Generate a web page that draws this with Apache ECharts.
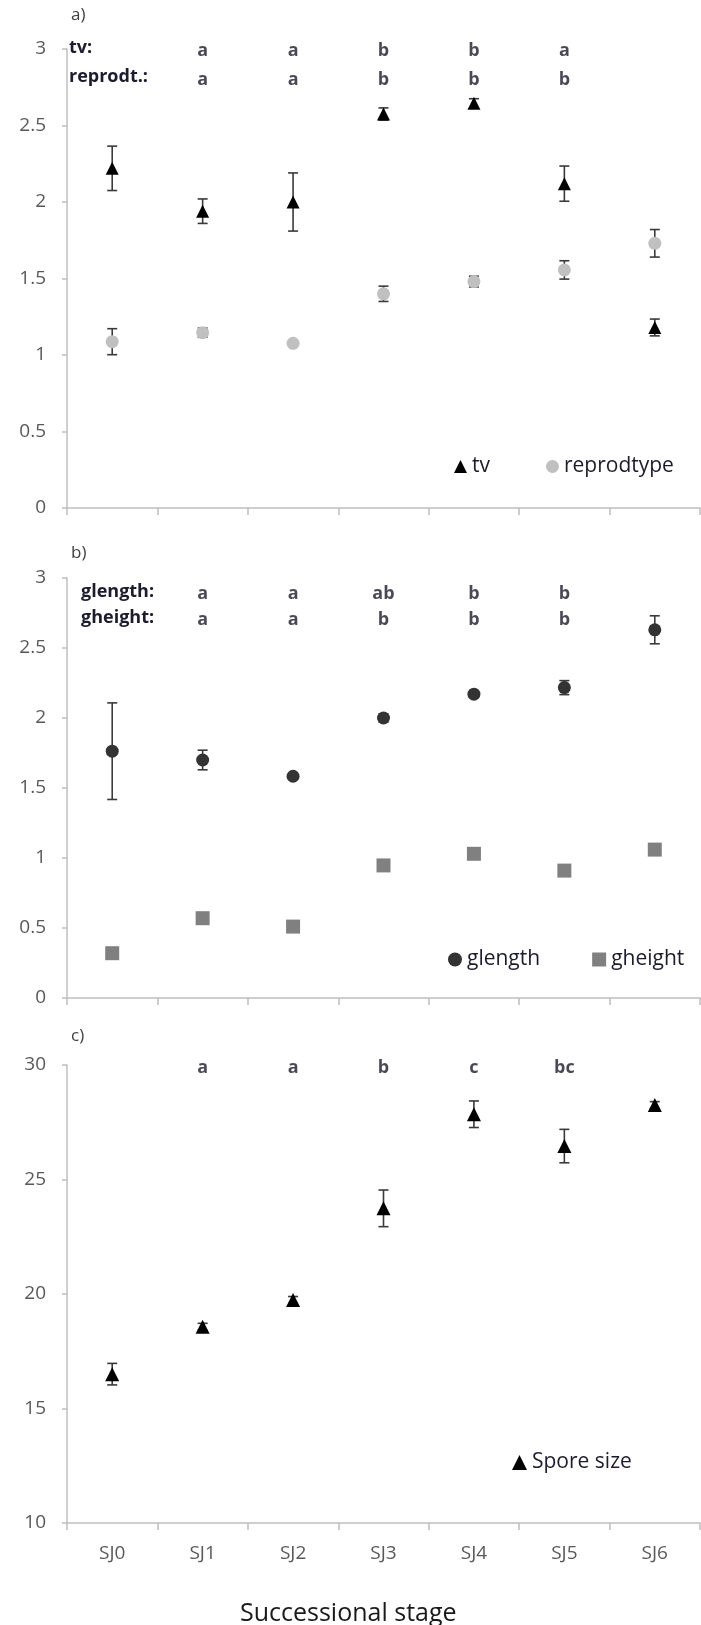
<!DOCTYPE html>
<html>
<head>
<meta charset="utf-8">
<script src="https://cdn.jsdelivr.net/npm/echarts@6/dist/echarts.min.js"></script>
<style>html,body{margin:0;padding:0;background:#fff}#c{width:701px;height:1625px}</style>
</head>
<body>
<div id="c"></div>
<script>
const stages = ['SJ0','SJ1','SJ2','SJ3','SJ4','SJ5','SJ6'];
const tvMean = [2.22,1.94,2.00,2.575,2.645,2.12,1.18];
const tvErr = [0.145,0.08,0.19,0.04,0.03,0.115,0.055];
const reproMean = [1.087,1.146,1.076,1.40,1.48,1.556,1.73];
const reproErr = [0.085,0.03,0.01,0.05,0.035,0.06,0.09];
const glengthMean = [1.763,1.70,1.584,2.00,2.17,2.217,2.63];
const glengthErr = [0.345,0.07,0.01,0.03,0.02,0.05,0.10];
const gheightMean = [0.32,0.57,0.51,0.947,1.03,0.91,1.06];
const gheightErr = [0.02,0.02,0.02,0.02,0.02,0.02,0.02];
const sporeMean = [16.5,18.57,19.74,23.74,27.85,26.46,28.25];
const sporeErr = [0.47,0.15,0.15,0.8,0.58,0.73,0.15];
const tvLetters = ['','a','a','b','b','a',''];
const reproLetters = ['','a','a','b','b','b',''];
const glengthLetters = ['','a','a','ab','b','b',''];
const gheightLetters = ['','a','a','b','b','b',''];
const sporeLetters = ['','a','a','b','c','bc',''];
const yTicksA = [0,3,0.5];
const yTicksC = [10,30,5];

const FONT = 'Open Sans';
const TXT = '#1c1c2c';
const chart = echarts.init(document.getElementById('c'), null, {renderer:'canvas'});

function errData(mean, err){ return mean.map((m,i)=>[i, m-err[i], m+err[i]]); }
function letterData(letters, y){ return letters.map((l,i)=>[i,y,l]).filter(d=>d[2]!==''); }

function errSeries(name, idx, mean, err){
  return {
    name: name, type:'custom', xAxisIndex: idx, yAxisIndex: idx, z: 1, silent:true,
    data: errData(mean, err),
    renderItem: function(params, api){
      const x = api.value(0);
      const lo = api.coord([x, api.value(1)]);
      const hi = api.coord([x, api.value(2)]);
      const w = 5;
      const st = {stroke:'#3a3a3a', lineWidth:1.6};
      return {type:'group', children:[
        {type:'line', shape:{x1:lo[0],y1:lo[1],x2:hi[0],y2:hi[1]}, style:st},
        {type:'line', shape:{x1:hi[0]-w,y1:hi[1],x2:hi[0]+w,y2:hi[1]}, style:st},
        {type:'line', shape:{x1:lo[0]-w,y1:lo[1],x2:lo[0]+w,y2:lo[1]}, style:st}
      ]};
    }
  };
}
function pointSeries(name, idx, mean, symbol, size, color){
  return {name:name, type:'scatter', xAxisIndex:idx, yAxisIndex:idx, z:3, symbol:symbol, symbolSize:size,
    itemStyle:{color:color, opacity:1}, data: mean.map((m,i)=>[i,m]), silent:true};
}
function letterSeries(name, idx, letters, y){
  return {name:name, type:'scatter', xAxisIndex:idx, yAxisIndex:idx, z:4, symbolSize:0.1, silent:true,
    data: letterData(letters, y),
    label:{show:true, position:'inside', formatter:p=>p.value[2], fontFamily:FONT, fontSize:18, fontWeight:'bold', color:TXT}};
}

const grids = [
  {left:67, right:1, top:49, height:459},
  {left:67, right:1, top:578, height:420},
  {left:67, right:1, top:1065, height:458}
];
function xAxis(idx, showLabels){
  return {type:'category', gridIndex:idx, data:stages, boundaryGap:true,
    axisLine:{lineStyle:{color:'#bfbfbf', width:1.5}},
    axisTick:{show:true, length:7, lineStyle:{color:'#bfbfbf', width:1.5}},
    axisLabel:{show:showLabels, fontFamily:FONT, fontSize:19, color:'#595959', margin:21}};
}
function yAxis(idx, t){
  return {type:'value', gridIndex:idx, min:t[0], max:t[1], interval:t[2],
    axisLine:{show:true, lineStyle:{color:'#bfbfbf', width:1.5}},
    axisTick:{show:true, length:5, lineStyle:{color:'#bfbfbf', width:1.5}},
    splitLine:{show:false},
    axisLabel:{fontFamily:FONT, fontSize:19, color:'#595959', margin:21}};
}
const legendText = {fontFamily:FONT, fontSize:21, color:TXT};

chart.setOption({
  animation:false,
  backgroundColor:'#fff',
  grid: grids,
  xAxis:[xAxis(0,false), xAxis(1,false), xAxis(2,true)],
  yAxis:[yAxis(0,yTicksA), yAxis(1,yTicksA), yAxis(2,yTicksC)],
  legend:[
    {data:['tv','reprodtype'], left:449, top:451, itemWidth:13, itemHeight:13, itemGap:56, textStyle:legendText, selectedMode:false},
    {data:['glength','gheight'], left:443, top:944, itemWidth:14, itemHeight:14, itemGap:52, textStyle:legendText, selectedMode:false},
    {data:['Spore size'], left:507, top:1447, itemWidth:15, itemHeight:15, itemGap:10, textStyle:legendText, selectedMode:false}
  ],
  graphic:[
    {type:'text', left:71, top:7, style:{text:'a)', font:'17px "Open Sans"', fill:'#404040'}},
    {type:'text', left:71, top:545, style:{text:'b)', font:'17px "Open Sans"', fill:'#404040'}},
    {type:'text', left:71, top:1028, style:{text:'c)', font:'17px "Open Sans"', fill:'#404040'}},
    {type:'text', left:69, top:39, style:{text:'tv:', font:'bold 18px "Open Sans"', fill:TXT}},
    {type:'text', left:69, top:68, style:{text:'reprodt.:', font:'bold 18px "Open Sans"', fill:TXT}},
    {type:'text', left:81, top:583, style:{text:'glength:', font:'bold 18px "Open Sans"', fill:TXT}},
    {type:'text', left:81, top:609, style:{text:'gheight:', font:'bold 18px "Open Sans"', fill:TXT}},
    {type:'text', left:240, top:1601, style:{text:'Successional stage', font:'25px "Open Sans"', fill:'#1a1a1a'}}
  ],
  series:[
    errSeries('tv_err',0,tvMean,tvErr),
    errSeries('repro_err',0,reproMean,reproErr),
    pointSeries('reprodtype',0,reproMean,'circle',13,'#c0c0c0'),
    pointSeries('tv',0,tvMean,'triangle',13,'#000000'),
    letterSeries('tvL',0,tvLetters,2.99),
    letterSeries('reL',0,reproLetters,2.80),
    errSeries('gl_err',1,glengthMean,glengthErr),
    errSeries('gh_err',1,gheightMean,gheightErr),
    pointSeries('glength',1,glengthMean,'circle',13,'#333333'),
    pointSeries('gheight',1,gheightMean,'rect',14,'#808080'),
    letterSeries('glL',1,glengthLetters,2.885),
    letterSeries('ghL',1,gheightLetters,2.70),
    errSeries('sp_err',2,sporeMean,sporeErr),
    pointSeries('Spore size',2,sporeMean,'triangle',14,'#000000'),
    letterSeries('spL',2,sporeLetters,29.87)
  ]
});
</script>
</body>
</html>
